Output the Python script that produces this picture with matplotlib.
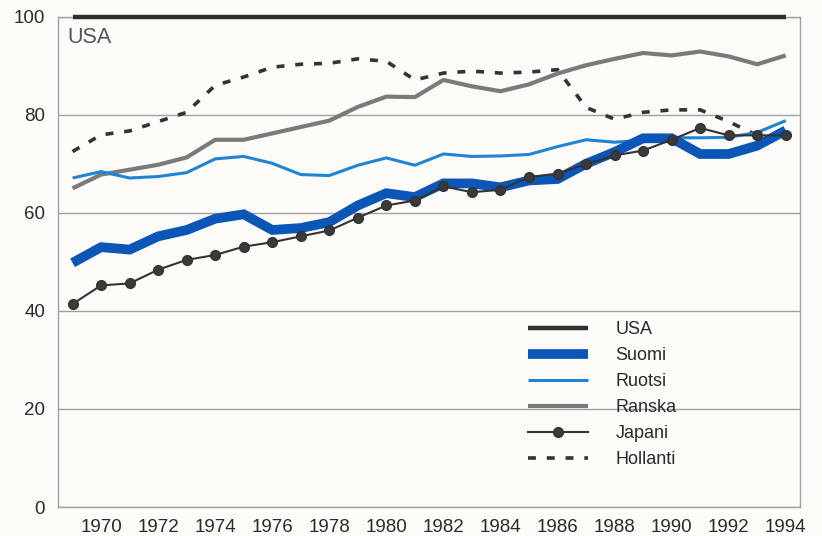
import matplotlib
matplotlib.use("Agg")
import matplotlib.pyplot as plt

years = list(range(1969, 1995))
usa = [100] * 26
suomi = [49.8, 53.0, 52.5, 55.2, 56.5, 58.8, 59.7, 56.5, 56.9, 58.1, 61.5, 64.0, 63.2,
         66.0, 66.0, 65.2, 66.6, 66.9, 70.0, 72.4, 75.2, 75.2, 72.0, 72.0, 73.7, 76.8]
ruotsi = [67.1, 68.4, 67.1, 67.4, 68.2, 71.0, 71.5, 70.1, 67.8, 67.6, 69.7, 71.2, 69.7,
          72.0, 71.5, 71.6, 71.9, 73.5, 74.9, 74.4, 74.8, 75.3, 75.3, 75.4, 76.4, 78.8]
ranska = [65.0, 67.8, 68.8, 69.8, 71.3, 74.9, 74.9, 76.2, 77.5, 78.8, 81.6, 83.7, 83.6,
          87.1, 85.8, 84.8, 86.2, 88.4, 90.1, 91.4, 92.6, 92.1, 92.9, 91.9, 90.3, 92.1]
japani = [41.4, 45.2, 45.6, 48.4, 50.4, 51.4, 53.1, 54.0, 55.2, 56.4, 59.0, 61.5, 62.5,
          65.4, 64.2, 64.7, 67.3, 68.0, 69.9, 71.7, 72.7, 74.9, 77.3, 75.8, 75.8, 75.8]
hollanti = [72.5, 75.9, 76.7, 78.6, 80.5, 86.0, 87.7, 89.7, 90.3, 90.5, 91.4, 90.9, 87.1,
            88.5, 88.9, 88.5, 88.7, 89.2, 81.5, 79.1, 80.5, 81.0, 81.0, 78.6, 75.8, 74.6]

xticks = list(range(1970, 1995, 2))
yticks = [0, 20, 40, 60, 80, 100]

plt.rcParams['font.family'] = ['Liberation Sans', 'DejaVu Sans']
bg = '#fcfbf7'
fig = plt.figure(figsize=(8.22, 5.36), dpi=100, facecolor=bg)
ax = fig.add_axes([58.3 / 822, 1 - 507 / 536, (800 - 58.3) / 822, (507 - 16.7) / 536])
ax.set_facecolor(bg)

ax.set_xlim(1968.5, 1994.5)
ax.set_ylim(0, 100)
ax.set_yticks(yticks)
ax.set_xticks(xticks)
ax.yaxis.grid(True, color='#a0a0a0', lw=1.0)
ax.set_axisbelow(True)
for s in ax.spines.values():
    s.set_color('#a0a0a0')
    s.set_linewidth(1.0)
ax.tick_params(length=0, labelsize=13.5, labelcolor='#2a2a2a')
ax.tick_params(axis='x', pad=8.5)
ax.tick_params(axis='y', pad=9.5)

l_hol, = ax.plot(years, hollanti, color='#333333', lw=2.6, dashes=(2.2, 3.0),
                 dash_capstyle='butt', label='Hollanti')
l_ran, = ax.plot(years, ranska, color='#7a7a7a', lw=3.0, solid_capstyle='butt', label='Ranska')
l_ruo, = ax.plot(years, ruotsi, color='#1f84d4', lw=2.2, solid_capstyle='butt', label='Ruotsi')
l_suo, = ax.plot(years, suomi, color='#0b56b6', lw=7.0, solid_joinstyle='miter',
                 solid_capstyle='butt', label='Suomi')
l_jap, = ax.plot(years, japani, color='#333333', lw=1.5, marker='o', markersize=7,
                 markerfacecolor='#3a3a3a', markeredgecolor='#333333', label='Japani')
l_usa, = ax.plot(years, usa, color='#2e2e2e', lw=3.2, solid_capstyle='butt', label='USA',
                 clip_on=False, zorder=4)

ax.text(1968.83, 94.6, 'USA', fontsize=15.5, color='#555555', va='baseline', ha='left')

handles = [l_usa, l_suo, l_ruo, l_ran, l_jap, l_hol]
leg = ax.legend(handles=handles, labels=[h.get_label() for h in handles],
                loc='upper left', bbox_to_anchor=((528 - 58.3) / (800 - 58.3), (507 - 321) / (507 - 16.7)),
                frameon=False, fontsize=13, handlelength=3.3, handletextpad=1.55,
                labelspacing=0.5, borderpad=0, borderaxespad=0, numpoints=1)
for t in leg.get_texts():
    t.set_color('#2a2a2a')

fig.savefig('out.png', dpi=100, facecolor=bg)
